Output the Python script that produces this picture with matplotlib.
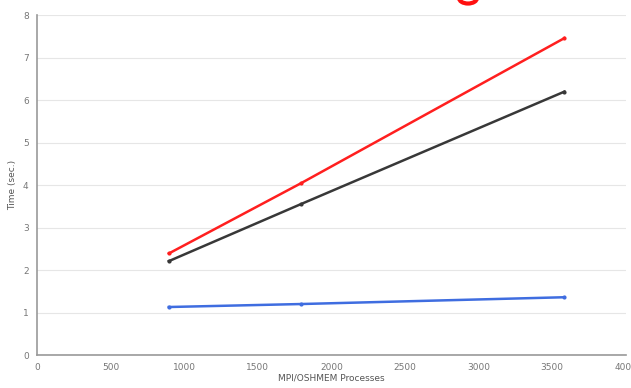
import matplotlib
matplotlib.use("Agg")
import matplotlib.pyplot as plt
from matplotlib.patches import Circle

processes = [896, 1792, 3584]
red_times = [2.39, 4.04, 7.46]
black_times = [2.21, 3.55, 6.20]
blue_times = [1.13, 1.20, 1.36]

x_ticks = [0, 500, 1000, 1500, 2000, 2500, 3000, 3500, 4000]
y_ticks = [0, 1, 2, 3, 4, 5, 6, 7, 8]


def main():
    fig = plt.figure(figsize=(6.31, 3.88), dpi=100)
    ax = fig.add_axes([0.0586, 0.085, 0.933, 0.876])

    ax.plot(processes, red_times, color="#ff1f1f", lw=1.8, marker="o", ms=2)
    ax.plot(processes, black_times, color="#383838", lw=1.8, marker="o", ms=2)
    ax.plot(processes, blue_times, color="#3f6de0", lw=1.8, marker="o", ms=2)

    ax.set_xlim(0, 4000)
    ax.set_ylim(0, 8)
    ax.set_xticks(x_ticks)
    ax.set_yticks(y_ticks)
    ax.tick_params(labelsize=6.5, colors="#777777", length=0, pad=6)
    ax.grid(axis="y", color="#e6e6e6", lw=0.8)
    ax.set_axisbelow(True)
    for s in ["top", "right"]:
        ax.spines[s].set_visible(False)
    for s in ["left", "bottom"]:
        ax.spines[s].set_color("#999999")
        ax.spines[s].set_linewidth(1.2)

    ax.set_xlabel("MPI/OSHMEM Processes", fontsize=6.5, color="#555555", labelpad=1)
    ax.set_ylabel("Time (sec.)", fontsize=6.5, color="#555555", labelpad=4)

    # red circle annotation cut off at the top
    ring = Circle((468 / 631, 1 + 2 / 388), 9 / 631, transform=fig.transFigure,
                  fill=False, ec="#ff1010", lw=3, clip_on=False)
    fig.patches.append(ring)

    fig.savefig("out.png", dpi=100)


if __name__ == "__main__":
    main()
